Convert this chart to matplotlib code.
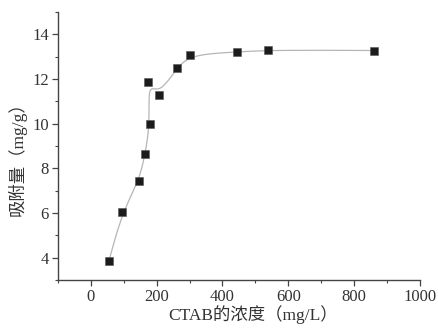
import numpy as np
import matplotlib
matplotlib.use("Agg")
import matplotlib.pyplot as plt
from matplotlib.ticker import MultipleLocator

plt.rcParams['font.family'] = ['Liberation Serif', 'Noto Sans CJK SC']

# CTAB concentration (mg/L) and adsorption amount (mg/g), in measurement order
conc = [55, 96, 147, 165, 180, 173, 207, 261, 302, 443, 537, 859]
q = [3.85, 6.05, 7.44, 8.63, 9.98, 11.85, 11.29, 12.48, 13.09, 13.20, 13.29, 13.27]


def bspline(px, py, n=40):
    # clamped uniform cubic B-spline using the points as control points
    px = np.r_[[px[0]] * 2, px, [px[-1]] * 2]
    py = np.r_[[py[0]] * 2, py, [py[-1]] * 2]
    t = np.linspace(0, 1, n)
    B = np.array([(1 - t) ** 3, 3 * t ** 3 - 6 * t ** 2 + 4,
                  -3 * t ** 3 + 3 * t ** 2 + 3 * t + 1, t ** 3]) / 6
    xs, ys = [], []
    for i in range(len(px) - 3):
        xs.append(B.T @ px[i:i + 4])
        ys.append(B.T @ py[i:i + 4])
    return np.concatenate(xs), np.concatenate(ys)


fig = plt.figure(figsize=(4.38, 3.29), dpi=100)
ax = fig.add_axes([0.132, 0.149, 0.827, 0.815])

cx, cy = bspline(np.array(conc, float), np.array(q, float))
ax.plot(cx, cy, color='#b5b5b5', lw=0.9, zorder=1)
ax.plot(conc, q, 's', color='#1c1c1c', mec='#555555', mew=0.4, ms=5.2,
        linestyle='None', zorder=2)

ax.set_xlim(-100, 1000)
ax.set_ylim(3, 15)
ax.xaxis.set_major_locator(MultipleLocator(200))
ax.xaxis.set_minor_locator(MultipleLocator(100))
ax.yaxis.set_major_locator(MultipleLocator(2))
ax.yaxis.set_minor_locator(MultipleLocator(1))

for s in ['top', 'right']:
    ax.spines[s].set_visible(False)
for s in ['left', 'bottom']:
    ax.spines[s].set_color('#444444')
    ax.spines[s].set_linewidth(1.0)

ax.tick_params(which='major', direction='out', length=4, width=0.9,
               colors='#444444', labelsize=12, labelcolor='#333333', pad=2.5)
ax.tick_params(which='minor', direction='out', length=2.5, width=0.8,
               colors='#444444')

ax.set_xlabel('CTAB的浓度（mg/L）', fontsize=12.5, color='#333333')
ax.set_ylabel('吸附量（mg/g）', fontsize=12.5, color='#333333')
ax.xaxis.set_label_coords(0.54, -0.095)
ax.yaxis.set_label_coords(-0.085, 0.466)

fig.savefig('out.png', dpi=100)
